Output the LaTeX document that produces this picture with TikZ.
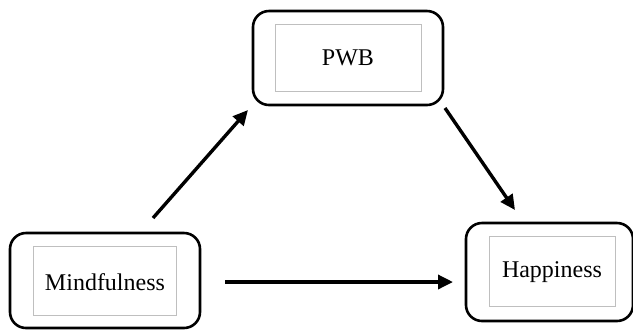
\documentclass[tikz,border=0pt]{standalone}
\usepackage{fontspec}
\setmainfont{Liberation Serif}
\usetikzlibrary{arrows.meta}
\begin{document}
\begin{tikzpicture}[x=0.5pt,y=-0.5pt,
  outerbox/.style={draw=black, line width=1.3pt, rounded corners=8pt, fill=white, inner sep=0pt},
  innerbox/.style={draw=black!25, line width=0.5pt, fill=white, inner sep=0pt},
  lbl/.style={font=\fontsize{12}{14}\selectfont, inner sep=1pt},
  conn/.style={line width=1.7pt, -{Triangle[length=7.5pt,width=7pt]}}]
\useasboundingbox[fill=white] (0,0) rectangle (633,329);
% PWB
\node[outerbox, minimum width=95pt, minimum height=47pt] (pwbO) at (348,58) {};
\node[innerbox, minimum width=73pt, minimum height=33.5pt] (pwbI) at (348,57.5) {};
\node[lbl] (pwb) at (348,58) {PWB};
% Mindfulness
\node[outerbox, minimum width=95pt, minimum height=47.5pt] (mindO) at (105,280.5) {};
\node[innerbox, minimum width=71.5pt, minimum height=34.5pt] (mindI) at (104.5,280.5) {};
\node[lbl] (mind) at (105,282) {Mindfulness};
% Happiness
\node[outerbox, minimum width=83.5pt, minimum height=49pt] (hapO) at (549.5,272) {};
\node[innerbox, minimum width=63pt, minimum height=35pt] (hapI) at (552,271) {};
\node[lbl] (hap) at (552,272) {Happiness};
% connector end points
\coordinate (a1s) at (153,218);
\coordinate (a1e) at (248,110);
\coordinate (a2s) at (445,108);
\coordinate (a2e) at (515,210);
\coordinate (a3s) at (225,282);
\coordinate (a3e) at (453,282);
\draw[conn] (a1s) -- (a1e);
\draw[conn] (a2s) -- (a2e);
\draw[conn] (a3s) -- (a3e);
\end{tikzpicture}
\end{document}
